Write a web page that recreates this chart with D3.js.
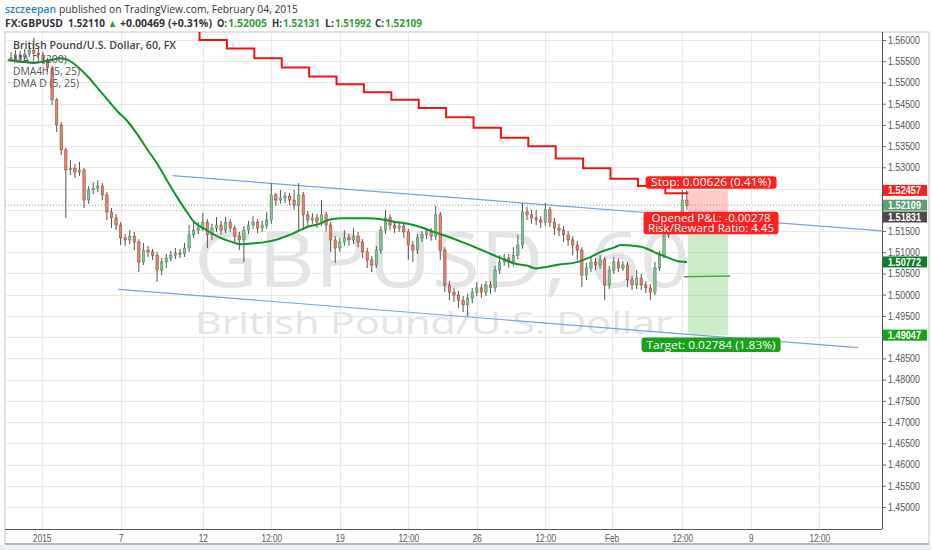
<!DOCTYPE html>
<html><head><meta charset="utf-8">
<script src="https://cdn.jsdelivr.net/npm/d3@7"></script>
<style>
body{margin:0;background:#fff;}
svg{display:block;font-family:"Open Sans",sans-serif;}
</style>
</head><body>
<svg id="c" width="932" height="550"></svg>
<script>
// ---------------- DATA ----------------
// 4-hour candles, index i -> trading day i/6 (day 0 = Dec 31, weekends skipped)
const firstOpen = 1.5553;
const closes = [1.5558,1.5565,1.5560,1.5567,1.5576,1.5569,1.5565,1.5553,1.5534,1.5459,
1.5400,1.5341,1.5294,1.5298,1.5289,1.5294,1.5223,1.5247,1.5251,1.5256,
1.5235,1.5195,1.5181,1.5164,1.5134,1.5129,1.5138,1.5124,1.5077,1.5105,
1.5101,1.5093,1.5058,1.5077,1.5086,1.5093,1.5098,1.5096,1.5110,1.5141,
1.5152,1.5157,1.5171,1.5141,1.5157,1.5164,1.5152,1.5171,1.5157,1.5138,
1.5129,1.5152,1.5164,1.5171,1.5157,1.5164,1.5176,1.5235,1.5223,1.5228,
1.5232,1.5223,1.5211,1.5235,1.5188,1.5176,1.5181,1.5171,1.5188,1.5164,
1.5129,1.5110,1.5124,1.5134,1.5129,1.5138,1.5124,1.5101,1.5082,1.5070,
1.5105,1.5152,1.5181,1.5164,1.5157,1.5162,1.5148,1.5117,1.5105,1.5134,
1.5141,1.5148,1.5138,1.5188,1.5105,1.5023,1.5006,1.4999,1.4987,1.4976,
1.4992,1.5006,1.5016,1.5006,1.5023,1.5016,1.5058,1.5077,1.5086,1.5077,
1.5093,1.5117,1.5195,1.5188,1.5181,1.5176,1.5171,1.5200,1.5171,1.5157,
1.5152,1.5141,1.5129,1.5117,1.5105,1.5046,1.5063,1.5077,1.5070,1.5082,
1.5023,1.5058,1.5077,1.5063,1.5070,1.5035,1.5023,1.5039,1.5023,1.5016,
1.5006,1.5063,1.5093,1.5141,1.5164,1.5157,1.5171,1.5223,1.52109];
const highs = [1.5572,1.5576,1.5574,1.5579,1.5588,1.5605,1.5581,1.5572,1.5558,1.5539,
1.5463,1.5407,1.5346,1.5317,1.5308,1.5313,1.5298,1.5256,1.5265,1.5270,
1.5263,1.5242,1.5204,1.5190,1.5171,1.5143,1.5152,1.5148,1.5131,1.5122,
1.5115,1.5108,1.5101,1.5086,1.5096,1.5103,1.5110,1.5108,1.5122,1.5164,
1.5176,1.5171,1.5192,1.5178,1.5167,1.5183,1.5174,1.5183,1.5178,1.5164,
1.5148,1.5162,1.5174,1.5185,1.5178,1.5174,1.5195,1.5263,1.5240,1.5247,
1.5242,1.5240,1.5247,1.5263,1.5242,1.5197,1.5192,1.5190,1.5223,1.5195,
1.5171,1.5138,1.5134,1.5152,1.5143,1.5157,1.5148,1.5131,1.5110,1.5091,
1.5115,1.5162,1.5200,1.5190,1.5174,1.5171,1.5169,1.5155,1.5127,1.5143,
1.5150,1.5157,1.5157,1.5209,1.5195,1.5112,1.5032,1.5016,1.5009,1.4997,
1.5002,1.5016,1.5030,1.5025,1.5032,1.5032,1.5068,1.5093,1.5096,1.5096,
1.5112,1.5141,1.5216,1.5207,1.5200,1.5200,1.5185,1.5216,1.5207,1.5181,
1.5167,1.5162,1.5150,1.5138,1.5127,1.5112,1.5075,1.5089,1.5086,1.5093,
1.5089,1.5068,1.5089,1.5086,1.5079,1.5077,1.5044,1.5058,1.5049,1.5032,
1.5025,1.5077,1.5103,1.5150,1.5176,1.5174,1.5188,1.5247,1.5246];
const lows = [1.5548,1.5553,1.5551,1.5555,1.5560,1.5562,1.5558,1.5543,1.5525,1.5447,
1.5383,1.5329,1.5181,1.5282,1.5275,1.5280,1.5204,1.5214,1.5237,1.5242,
1.5223,1.5176,1.5157,1.5152,1.5117,1.5115,1.5119,1.5105,1.5053,1.5070,
1.5089,1.5082,1.5030,1.5046,1.5063,1.5079,1.5084,1.5086,1.5089,1.5101,
1.5134,1.5143,1.5150,1.5110,1.5129,1.5148,1.5141,1.5145,1.5148,1.5122,
1.5105,1.5077,1.5143,1.5155,1.5145,1.5148,1.5155,1.5167,1.5209,1.5214,
1.5216,1.5211,1.5200,1.5152,1.5152,1.5162,1.5167,1.5157,1.5162,1.5148,
1.5101,1.5075,1.5101,1.5115,1.5115,1.5119,1.5112,1.5086,1.5063,1.5053,
1.5063,1.5096,1.5143,1.5152,1.5145,1.5148,1.5134,1.5082,1.5077,1.5096,
1.5124,1.5131,1.5127,1.5129,1.5082,1.5006,1.4987,1.4983,1.4969,1.4959,
1.4950,1.4980,1.4997,1.4992,1.4997,1.5002,1.5006,1.5049,1.5068,1.5063,
1.5068,1.5084,1.5108,1.5176,1.5167,1.5164,1.5157,1.5162,1.5159,1.5141,
1.5138,1.5124,1.5115,1.5093,1.5082,1.5018,1.5035,1.5053,1.5058,1.5061,
1.4987,1.5013,1.5049,1.5053,1.5056,1.5018,1.5011,1.5013,1.5011,1.5004,
1.4987,1.4999,1.5056,1.5086,1.5134,1.5145,1.5150,1.5164,1.5200];
const barsPerDay = 6;

// MA D (200): daily step values, first step starts at maFirstDay
const maFirstDay = 5.88;
const maValues = [1.5623,1.5600,1.5580,1.5557,1.5535,1.5514,1.5496,1.5477,1.5459,1.5440,
1.5418,1.5393,1.5370,1.5350,1.5321,1.5298,1.5273,1.5256,1.5239];
const maEndDay = 24.72;

// DMA4h (5, 25)
const dmaDays = [-0.12,0.36,0.83,1.34,1.82,2.07,2.43,2.80,3.17,3.53,3.90,4.26,4.63,4.99,5.36,5.72,6.09,6.45,6.67,7.04,
7.55,8.02,8.39,8.86,9.37,9.85,10.32,10.83,11.31,11.56,12.04,12.51,13.02,13.50,13.97,14.48,14.96,15.43,15.94,16.42,
16.89,17.40,17.88,18.35,18.86,19.15,19.59,20.07,20.54,21.05,21.53,22.00,22.26,22.99,23.46,23.95,24.42,24.67];
const dmaValues = [1.5553,1.5549,1.5546,1.5551,1.5557,1.5553,1.5537,1.5514,1.5486,1.5459,1.5431,1.5408,1.5376,1.5341,1.5306,1.5266,1.5227,1.5192,1.5172,1.5156,
1.5137,1.5125,1.5119,1.5121,1.5125,1.5133,1.5145,1.5160,1.5168,1.5176,1.5180,1.5180,1.5180,1.5178,1.5172,1.5167,1.5159,1.5148,1.5137,1.5125,
1.5113,1.5099,1.5086,1.5074,1.5068,1.5062,1.5066,1.5072,1.5075,1.5086,1.5101,1.5111,1.5117,1.5113,1.5101,1.5088,1.5078,1.50772];
// DMA D (5, 25) displaced segment
const dmaDDays = [24.56, 26.24];
const dmaDValues = [1.5042, 1.5044];

// Trend channel lines [day, price]
const upperLine = [[5.90, 1.52803], [31.82, 1.51501]];
const lowerLine = [[3.92, 1.50127], [30.92, 1.48751]];

// Short position tool
const posDays = [24.71, 26.17];
const stopPrice = 1.52457, entryPrice = 1.51831, targetPrice = 1.49047;
const lastPrice = 1.52109, dmaLast = 1.50772;

// Axes
const priceTicks = [1.45,1.455,1.46,1.465,1.47,1.475,1.48,1.485,1.49,1.495,1.50,1.505,1.51,1.515,1.52,1.525,1.53,1.535,1.54,1.545,1.55,1.555,1.56];
const timeTicks = [1.12, 4, 7, 9.5, 12, 14.5, 17, 19.5, 21.92, 24.5, 27, 29.5];
const timeLabels = ["2015","7","12","12:00","19","12:00","26","12:00","Feb","12:00","9","12:00"];

// ---------------- CHART ----------------
const svg = d3.select("#c");
const L = 5, R = 882, T = 32, B = 529;
const x = d3.scaleLinear().domain([-0.219, 31.788]).range([L, R]);
const y = d3.scaleLinear().domain([1.444806, 1.561885]).range([B, T]);

function squeeze(sel, f) {
  sel.each(function(){ const w = this.getComputedTextLength(); d3.select(this).attr("textLength", w*f).attr("lengthAdjust","spacingAndGlyphs"); });
}
function fit(sel, w) { sel.attr("textLength", w).attr("lengthAdjust","spacingAndGlyphs"); }

// background strip at bottom
svg.append("rect").attr("x",0).attr("y",545).attr("width",932).attr("height",5).attr("fill","#eceff1");

// header
const h1 = svg.append("text").attr("x",5).attr("y",13).attr("font-size",11.5).attr("font-weight",600).attr("fill","#2f7fc1").text("szczeepan");
const h1b = svg.append("text").attr("x",59).attr("y",13).attr("font-size",11.5).attr("fill","#333").text("published on TradingView.com, February 04, 2015");
fit(h1, 51); fit(h1b, 239);
const parts = [
  [5,58,"FX:GBPUSD","#333"],[68,37,"1.52110","#333"],[108,9,"▲","#3a9a3a"],[120,45,"+0.00469","#333"],[168,44,"(+0.31%)","#333"],
  [217,10,"O:","#333"],[228,39,"1.52005","#3a9a3a"],[272,10,"H:","#333"],[283,37,"1.52131","#3a9a3a"],
  [325,9,"L:","#333"],[335,36,"1.51992","#3a9a3a"],[375,9,"C:","#333"],[385,37,"1.52109","#3a9a3a"]];
parts.forEach(p=>{
  const t = svg.append("text").attr("x",p[0]).attr("y",27).attr("font-size",11).attr("font-weight",700).attr("fill",p[3]).text(p[2]);
  fit(t, p[1]);
});

// frame
svg.append("rect").attr("x",L).attr("y",T).attr("width",924).attr("height",512).attr("fill","#fff").attr("stroke","#c4c4c4");

svg.append("clipPath").attr("id","clip").append("rect").attr("x",L).attr("y",T).attr("width",R-L).attr("height",B-T);
const g = svg.append("g").attr("clip-path","url(#clip)");

// grid
g.selectAll(".hg").data(priceTicks).enter().append("line")
  .attr("x1",L).attr("x2",R).attr("y1",d=>Math.round(y(d))+0.5).attr("y2",d=>Math.round(y(d))+0.5)
  .attr("stroke","#e8e8e8");
g.selectAll(".vg").data(timeTicks).enter().append("line")
  .attr("y1",T).attr("y2",B).attr("x1",d=>Math.round(x(d))+0.5).attr("x2",d=>Math.round(x(d))+0.5)
  .attr("stroke","#e8e8e8");

// watermark
const w1 = g.append("text").attr("x",194).attr("y",287).attr("font-size",76).attr("fill","#e4e4e4").text("GBPUSD, 60");
fit(w1, 496);
const w2 = g.append("text").attr("x",195).attr("y",334).attr("font-size",31).attr("fill","#e4e4e4").text("British Pound/U.S. Dollar");
fit(w2, 477);

// last-price dotted line
g.append("line").attr("x1",L).attr("x2",R).attr("y1",y(lastPrice)).attr("y2",y(lastPrice))
  .attr("stroke","#8f9f8f").attr("stroke-dasharray","1,2");

// trend lines
[upperLine, lowerLine].forEach(l=>{
  g.append("line").attr("x1",x(l[0][0])).attr("y1",y(l[0][1])).attr("x2",x(l[1][0])).attr("y2",y(l[1][1]))
    .attr("stroke","#7ba3dd").attr("stroke-width",1.2);
});

// candles
const candles = closes.map((c,i)=>({d:i/barsPerDay, o: i===0?firstOpen:closes[i-1], c, h:highs[i], l:lows[i]}));
const cg = g.append("g");
cg.selectAll(".wick").data(candles).enter().append("line")
  .attr("x1",d=>x(d.d)).attr("x2",d=>x(d.d))
  .attr("y1",d=>y(Math.max(d.h,d.o,d.c))).attr("y2",d=>y(Math.min(d.l,d.o,d.c)))
  .attr("stroke","#555").attr("stroke-width",1);
cg.selectAll(".body").data(candles).enter().append("rect")
  .attr("x",d=>x(d.d)-1.2).attr("width",2.4)
  .attr("y",d=>y(Math.max(d.o,d.c))).attr("height",d=>Math.max(1,Math.abs(y(d.o)-y(d.c))))
  .attr("fill",d=>d.c>=d.o?"#86c096":"#e48272")
  .attr("stroke",d=>d.c>=d.o?"#3d7a4f":"#8a3a2f").attr("stroke-width",0.5);

// MA D (200) step line
const maPts = maValues.map((v,k)=>[maFirstDay+k, v]);
maPts.push([maEndDay, maValues[maValues.length-1]]);
g.append("path").datum(maPts)
  .attr("d", d3.line().x(d=>x(d[0])).y(d=>y(d[1])).curve(d3.curveStepAfter))
  .attr("fill","none").attr("stroke","#f01414").attr("stroke-width",2);

// DMA4h line
g.append("path").datum(dmaDays.map((d,i)=>[d,dmaValues[i]]))
  .attr("d", d3.line().x(d=>x(d[0])).y(d=>y(d[1])).curve(d3.curveMonotoneX))
  .attr("fill","none").attr("stroke","#12912e").attr("stroke-width",2);
g.append("path").datum(dmaDDays.map((d,i)=>[d,dmaDValues[i]]))
  .attr("d", d3.line().x(d=>x(d[0])).y(d=>y(d[1])))
  .attr("fill","none").attr("stroke","#3f9b3f").attr("stroke-width",1.5);

// position tool
const px0 = x(posDays[0]), px1 = x(posDays[1]);
g.append("rect").attr("x",px0).attr("width",px1-px0).attr("y",y(stopPrice)).attr("height",y(entryPrice)-y(stopPrice))
  .attr("fill","rgba(255,90,90,0.32)");
g.append("rect").attr("x",px0).attr("width",px1-px0).attr("y",y(entryPrice)).attr("height",y(targetPrice)-y(entryPrice))
  .attr("fill","rgba(100,200,90,0.32)");

const pcx = (px0+px1)/2 + 3;
function badge(cy, w, h, color, lines, fs) {
  g.append("rect").attr("x",pcx-w/2).attr("y",cy-h/2).attr("width",w).attr("height",h).attr("rx",3).attr("fill",color);
  lines.forEach((ln,k)=>{
    const t = g.append("text").attr("x",pcx).attr("y",cy + ln[2]).attr("text-anchor","middle")
      .attr("font-size",fs).attr("fill","#fff").text(ln[0]);
    fit(t, ln[1]);
  });
}
badge(y(stopPrice)-8, 131, 12.5, "#ff2020", [["Stop: 0.00626 (0.41%)",120,4]], 11.5);
badge(y(entryPrice)+6, 135, 22.5, "#ff2020", [["Opened P&L: -0.00278",119,-1.2],["Risk/Reward Ratio: 4.45",126,9.2]], 10.5);
badge(y(targetPrice)+9.5, 139, 14.5, "#17a317", [["Target: 0.02784 (1.83%)",129,4]], 11.5);

// legend
const lg = svg.append("g");
const l1 = lg.append("text").attr("x",13).attr("y",49).attr("font-size",11).attr("font-weight",600).attr("fill","#444").text("British Pound/U.S. Dollar, 60, FX");
fit(l1,163);
[["MA D (200)",63,54],["DMA4h (5, 25)",75,67],["DMA D (5, 25)",87,66]].forEach(a=>{
  const t = lg.append("text").attr("x",13).attr("y",a[1]).attr("font-size",11).attr("fill","#555").text(a[0]);
  fit(t,a[2]);
});

// axes lines
svg.append("line").attr("x1",R+0.5).attr("x2",R+0.5).attr("y1",T).attr("y2",B).attr("stroke","#555");
svg.append("line").attr("x1",L).attr("x2",R).attr("y1",B+0.5).attr("y2",B+0.5).attr("stroke","#555");
svg.append("line").attr("x1",L).attr("x2",929).attr("y1",544).attr("y2",544).attr("stroke","#aaa").attr("stroke-width",1.5);

// price axis (labels hidden where a value badge sits, like the original)
const badges = [[stopPrice, "#ff1e1e"],[lastPrice, "#5f9d6f"],[entryPrice, "#4a4a4a"],[dmaLast, "#0f7d2c"],[targetPrice, "#17a317"]];
const shownTicks = priceTicks.filter(t => badges.every(b => Math.abs(y(t)-y(b[0])) > 9));
const ya = svg.append("g").attr("transform",`translate(${R},0)`)
  .call(d3.axisRight(y).tickValues(shownTicks).tickFormat(d3.format(".5f")).tickSize(4).tickPadding(2));
ya.select(".domain").remove();
ya.selectAll("line").attr("stroke","#666");
ya.selectAll("text").attr("font-family","'Liberation Sans',Arial,sans-serif").attr("font-size",10.5).attr("fill","#555");
squeeze(ya.selectAll("text"), 0.84);

// time axis
const xa = svg.append("g").attr("transform",`translate(0,${B})`)
  .call(d3.axisBottom(x).tickValues(timeTicks).tickFormat((d,i)=>timeLabels[i]).tickSize(0).tickPadding(6));
xa.select(".domain").remove();
xa.selectAll("text").attr("font-family","'Liberation Sans',Arial,sans-serif").attr("font-size",10).attr("fill","#555");
squeeze(xa.selectAll("text"), 0.82);

// axis value badges
function axisBadge(v, color) {
  svg.append("rect").attr("x",R+1).attr("y",y(v)-5.5).attr("width",44).attr("height",11).attr("fill",color);
  const t = svg.append("text").attr("x",R+6).attr("y",y(v)).attr("dy","0.35em").attr("font-size",10.5).attr("font-weight",700)
    .attr("font-family","'Liberation Sans',Arial,sans-serif").attr("fill","#fff").text(d3.format(".5f")(v));
  fit(t, 33);
}
badges.forEach(b => axisBadge(b[0], b[1]));
</script>
</body></html>
